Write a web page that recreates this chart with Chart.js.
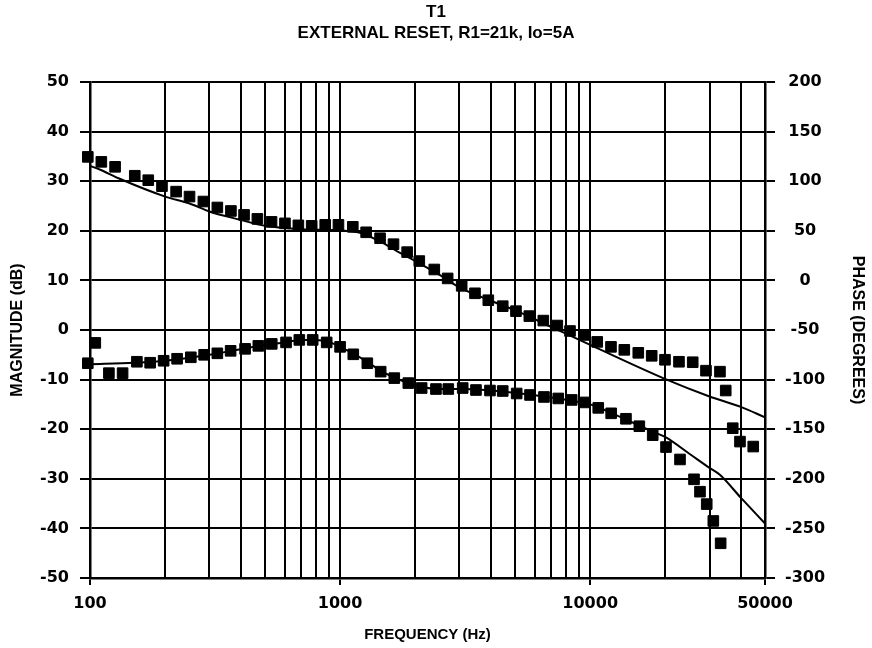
<!DOCTYPE html>
<html>
<head>
<meta charset="utf-8">
<script src="https://cdn.jsdelivr.net/npm/chart.js@4.4.1/dist/chart.umd.min.js"></script>
<style>
  html, body { margin: 0; padding: 0; background: #fff; }
  #wrap { width: 872px; height: 648px; }
</style>
</head>
<body>
<div id="wrap"><canvas id="bode"></canvas></div>
<script>
// measured gain (dB)
const magFreq = [98, 111, 126, 151, 171, 194, 221, 250, 284, 323, 366, 413, 467, 532, 602, 681, 770, 872, 985,
  1124, 1271, 1445, 1635, 1854, 2073, 2380, 2692, 3063, 3462, 3914, 4470, 5050, 5710, 6495, 7388, 8304, 9447,
  10670, 12110, 13690, 15570, 17620, 19910, 22650, 25700, 29040, 33030, 34830, 37150, 39710, 44870];
const magDb = [34.9, 33.9, 32.9, 31.1, 30.2, 29.0, 27.9, 26.9, 25.9, 24.7, 24.0, 23.2, 22.4, 21.8, 21.5, 21.1, 21.0, 21.2, 21.2,
  20.8, 19.7, 18.5, 17.3, 15.7, 13.9, 12.2, 10.4, 8.9, 7.4, 6.0, 4.8, 3.8, 2.8, 1.9, 0.9, -0.2, -1.0,
  -2.4, -3.4, -4.0, -4.6, -5.2, -6.0, -6.4, -6.5, -8.2, -8.4, -12.2, -19.8, -22.5, -23.5];

// measured phase (degrees)
const phaseFreq = [98, 105, 119, 135, 154, 174, 197, 223, 253, 286, 323, 365, 417, 471, 533, 608, 687, 777, 884,
  1000, 1129, 1285, 1453, 1647, 1874, 2119, 2417, 2708, 3092, 3494, 3975, 4470, 5083, 5746, 6535, 7453, 8435, 9533,
  10770, 12130, 13900, 15720, 17780, 20100, 22860, 26010, 27480, 29240, 31070, 33240];
const phaseDeg = [-83.5, -63, -93.5, -93.5, -82, -83, -81, -79, -77.5, -75, -73.5, -71, -69, -66, -64, -62.5, -60, -60, -62.5,
  -67, -74.5, -83.5, -92, -98.5, -103.5, -108.5, -109.5, -109.5, -108.5, -110.5, -111, -111.5, -114, -115.5, -117.5, -119, -120.5, -123,
  -128.5, -134, -139.5, -147, -156, -168, -180.5, -200.5, -213, -225.5, -242.5, -265];

// model curves
const magFitFreq = [100, 110, 130, 200, 250, 300, 400, 500, 700, 1000, 1200, 1450, 1700, 2000, 2500, 3000, 4000, 5000,
  7000, 10000, 20000, 30000, 40000, 50000];
const magFitDb = [33.1, 32.3, 30.6, 26.9, 25.5, 23.9, 22.2, 21.0, 20.3, 20.1, 19.6, 17.8, 15.8, 13.9, 11.1, 8.6, 5.9, 4.0,
  0.6, -3.0, -9.9, -13.4, -15.5, -17.6];
const phaseFitFreq = [100, 150, 200, 300, 400, 500, 600, 700, 800, 900, 1000, 1200, 1500, 1800, 2000, 2500, 3000, 4000,
  5000, 7000, 9000, 10000, 12000, 15000, 18000, 20000, 25000, 30000, 33000, 40000, 50000];
const phaseFitDeg = [-84.5, -83, -81, -75, -69.5, -65, -62.5, -60, -60, -62, -67, -77.5, -93, -102, -106, -109.5, -109.5, -111,
  -113.5, -118, -122.5, -125, -133, -144, -153, -158, -175, -189, -196, -219, -245];

// axis ticks
const gridFreqs = [100, 200, 300, 400, 500, 600, 700, 800, 900, 1000, 2000, 3000, 4000, 5000, 6000, 7000, 8000, 9000,
  10000, 20000, 30000, 40000, 50000];
const freqLabels = [100, 1000, 10000, 50000];

const pts = (xs, ys) => xs.map((x, i) => ({ x: x, y: ys[i] }));

const tickFont = { family: 'DejaVu Sans', size: 16, weight: 'bold' };
const sans = 'Liberation Sans, Arial, sans-serif';

new Chart(document.getElementById('bode'), {
  type: 'scatter',
  data: {
    datasets: [
      {
        label: 'Magnitude',
        data: pts(magFreq, magDb),
        yAxisID: 'y',
        pointStyle: 'rect',
        pointRadius: 7.5,
        backgroundColor: '#000',
        borderColor: '#000',
        clip: false
      },
      {
        label: 'Phase',
        data: pts(phaseFreq, phaseDeg),
        yAxisID: 'yPhase',
        pointStyle: 'rect',
        pointRadius: 7.5,
        backgroundColor: '#000',
        borderColor: '#000',
        clip: false
      },
      {
        label: 'Magnitude model',
        data: pts(magFitFreq, magFitDb),
        yAxisID: 'y',
        showLine: true,
        pointRadius: 0,
        borderColor: '#000',
        borderWidth: 2,
        cubicInterpolationMode: 'monotone'
      },
      {
        label: 'Phase model',
        data: pts(phaseFitFreq, phaseFitDeg),
        yAxisID: 'yPhase',
        showLine: true,
        pointRadius: 0,
        borderColor: '#000',
        borderWidth: 2,
        cubicInterpolationMode: 'monotone'
      }
    ]
  },
  options: {
    responsive: true,
    maintainAspectRatio: false,
    animation: false,
    layout: { padding: 0 },
    plugins: {
      legend: { display: false },
      tooltip: { enabled: false },
      title: {
        display: true,
        text: ['T1', 'EXTERNAL RESET, R1=21k, Io=5A'],
        color: '#000',
        font: { family: sans, size: 17, weight: 'bold', lineHeight: 1.25 },
        padding: { top: 1.5, bottom: 38 }
      }
    },
    scales: {
      x: {
        type: 'logarithmic',
        min: 100,
        max: 50000,
        afterBuildTicks: (scale) => { scale.ticks = gridFreqs.map(v => ({ value: v })); },
        afterFit: (scale) => { scale.height = 70; },
        ticks: {
          autoSkip: false,
          maxRotation: 0,
          color: '#000',
          font: tickFont,
          padding: 9,
          callback: (value) => freqLabels.includes(value) ? String(value) : ''
        },
        grid: {
          color: '#000',
          lineWidth: 2,
          tickLength: 7,
          tickColor: (ctx) => (ctx.tick && freqLabels.includes(ctx.tick.value)) ? '#000' : 'rgba(0,0,0,0)'
        },
        border: { color: '#000', width: 2.5 },
        title: { display: true, text: 'FREQUENCY (Hz)', color: '#000', font: { family: sans, size: 15, weight: 'bold' }, padding: { top: 6 } }
      },
      y: {
        position: 'left',
        min: -50,
        max: 50,
        afterFit: (scale) => { scale.width = 90; },
        ticks: { stepSize: 10, color: '#000', font: tickFont, padding: 11 },
        grid: { color: '#000', lineWidth: 2, tickLength: 10 },
        border: { color: '#000', width: 2.5 },
        title: { display: true, text: 'MAGNITUDE (dB)', color: '#000', font: { family: sans, size: 16, weight: 'bold' }, padding: { top: 8, bottom: 6 } }
      },
      yPhase: {
        position: 'right',
        min: -300,
        max: 200,
        afterFit: (scale) => { scale.width = 107; },
        ticks: { stepSize: 50, color: '#000', font: tickFont, padding: 10, crossAlign: 'center' },
        grid: { drawOnChartArea: false, color: '#000', lineWidth: 2, tickLength: 10 },
        border: { color: '#000', width: 2.5 },
        title: { display: true, text: 'PHASE (DEGREES)', color: '#000', font: { family: sans, size: 16, weight: 'bold' }, padding: { top: 4.5, bottom: 6 } }
      }
    }
  }
});
</script>
</body>
</html>
